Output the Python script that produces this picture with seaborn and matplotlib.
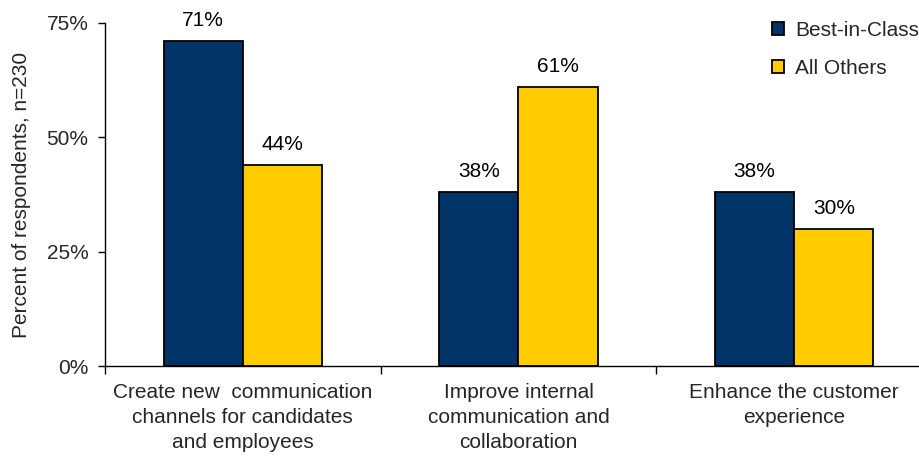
import matplotlib
matplotlib.use("Agg")
import matplotlib.pyplot as plt
from matplotlib.ticker import FixedLocator, PercentFormatter
import seaborn as sns
import pandas as pd

categories = [
    "Create new  communication\nchannels for candidates\nand employees",
    "Improve internal\ncommunication and\ncollaboration",
    "Enhance the customer\nexperience",
]
best_in_class = [71, 38, 38]
all_others = [44, 61, 30]
series_names = ["Best-in-Class", "All Others"]
y_ticks = [0, 25, 50, 75]

rows = []
for cat, b, o in zip(categories, best_in_class, all_others):
    rows.append({"category": cat, "group": series_names[0], "value": b})
    rows.append({"category": cat, "group": series_names[1], "value": o})
df = pd.DataFrame(rows)

sns.set_theme(style="white")
plt.rcParams["font.family"] = ["Liberation Sans", "DejaVu Sans"]

FS = 15

fig = plt.figure(figsize=(9.2, 4.66), dpi=100)
ax = fig.add_axes([105 / 920, 1 - 366 / 466, 827 / 920, 343 / 466])

sns.barplot(
    data=df, x="category", y="value", hue="group",
    palette={"Best-in-Class": "#003366", "All Others": "#FFCC00"},
    width=0.575, edgecolor="black", linewidth=1.3, saturation=1,
    errorbar=None, ax=ax,
)

for container in ax.containers:
    ax.bar_label(container, fmt="%.0f%%", padding=8, fontsize=FS, color="black")

ax.set_ylim(0, 75)
ax.set_xlim(-0.5, 2.5)
ax.yaxis.set_major_locator(FixedLocator(y_ticks))
ax.yaxis.set_major_formatter(PercentFormatter(decimals=0))
ax.set_ylabel("Percent of respondents, n=230", fontsize=FS, labelpad=11)
ax.set_xlabel("")

ax.tick_params(axis="y", which="major", direction="out", length=5, width=1,
               color="black", labelsize=FS, pad=7, left=True)
ax.tick_params(axis="x", which="major", length=0, labelsize=FS, pad=12)
for lbl in ax.get_xticklabels():
    lbl.set_linespacing(1.4)
ax.set_xticks([-0.5, 0.5, 1.5, 2.5], minor=True)
ax.tick_params(axis="x", which="minor", direction="out", length=6, width=1,
               color="black", bottom=True)

for side in ["top", "right"]:
    ax.spines[side].set_visible(False)
for side in ["left", "bottom"]:
    ax.spines[side].set_color("black")
    ax.spines[side].set_linewidth(1)

handles, labels = ax.get_legend_handles_labels()
ax.legend(handles, labels, loc="upper left", bbox_to_anchor=(772 / 920, 1 - 21 / 466),
          bbox_transform=fig.transFigure, frameon=False, fontsize=FS,
          handlelength=0.6, handleheight=0.6, handletextpad=0.5,
          labelspacing=0.9, borderaxespad=0, borderpad=0)

fig.savefig("out.png", dpi=100)
